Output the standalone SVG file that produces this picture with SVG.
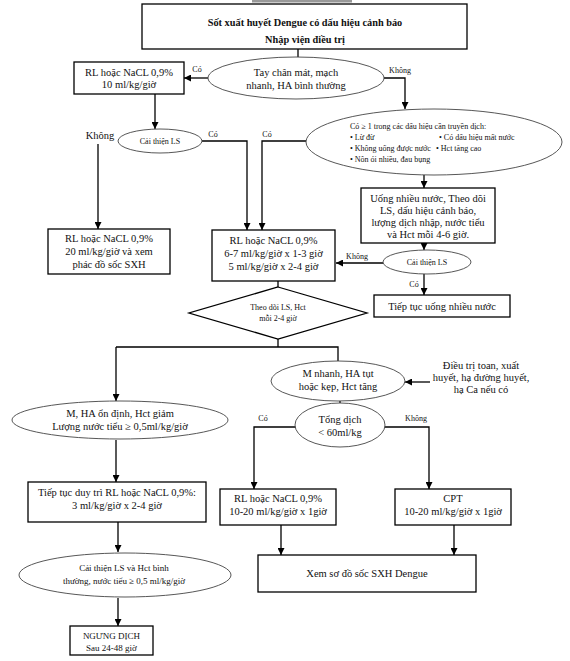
<svg xmlns="http://www.w3.org/2000/svg" width="570" height="661" viewBox="0 0 570 661">
<defs>
<marker id="arr" viewBox="0 0 10 10" refX="10" refY="5" markerWidth="7" markerHeight="7" markerUnits="userSpaceOnUse" orient="auto">
<path d="M0,0 L10,5 L0,10 z" fill="#000"/>
</marker>
<style>
.box{fill:#fff;stroke:#000;stroke-width:1.3}
.ell{fill:#fff;stroke:#444;stroke-width:0.9}
.t{font-family:"Liberation Serif","Times New Roman",serif;font-size:10.5px;fill:#111;text-anchor:middle}
.b{font-weight:bold;font-size:10.3px}
.s{font-size:8px}
.m{font-size:9px}
.l{text-anchor:start}
.c{fill:none;stroke:#000;stroke-width:1.3}
.ca{fill:none;stroke:#000;stroke-width:1.3;marker-end:url(#arr)}
</style>
</defs>
<rect width="570" height="661" fill="#fff"/>
<rect x="252" y="0" width="100" height="2.5" fill="#999"/>

<g id="connectors">
<line class="c" x1="298" y1="49" x2="298" y2="57"/>
<line class="ca" x1="208" y1="78" x2="184" y2="78"/>
<polyline class="ca" points="384,78 405,78 405,109"/>
<line class="ca" x1="155" y1="94" x2="155" y2="129"/>
<line class="ca" x1="98" y1="144" x2="98" y2="229"/>
<polyline class="ca" points="202,141 247,141 247,230"/>
<polyline class="ca" points="306,141 262,141 262,230"/>
<line class="ca" x1="424" y1="175" x2="424" y2="188"/>
<line class="ca" x1="424" y1="243" x2="424" y2="250"/>
<line class="ca" x1="383" y1="263" x2="336" y2="263"/>
<line class="ca" x1="424" y1="274" x2="424" y2="295"/>
<line class="c" x1="278" y1="281" x2="278" y2="287"/>
<polyline class="c" points="278,339 278,347"/>
<polyline class="c" points="116,347 338,347 338,361"/>
<line class="ca" x1="116" y1="347" x2="116" y2="401"/>
<line class="ca" x1="430" y1="382" x2="405" y2="382"/>
<line class="c" x1="340" y1="401" x2="340" y2="403"/>
<polyline class="ca" points="296,427 254,427 254,489"/>
<polyline class="ca" points="385,427 429,427 429,489"/>
<line class="ca" x1="281" y1="525" x2="281" y2="555"/>
<line class="ca" x1="454" y1="525" x2="454" y2="555"/>
<line class="ca" x1="116" y1="440" x2="116" y2="482"/>
<line class="ca" x1="118" y1="522" x2="118" y2="552"/>
<line class="ca" x1="118" y1="598" x2="118" y2="626"/>
<text class="t s" x="197" y="72">Có</text>
<text class="t s" x="400" y="73">Không</text>
<text class="t" x="100" y="139" style="font-size:10.5px">Không</text>
<text class="t s" x="213" y="137">Có</text>
<text class="t s" x="267" y="137">Có</text>
<text class="t s" x="357" y="259">Không</text>
<text class="t s" x="414" y="287">Có</text>
<text class="t s" x="263" y="421">Có</text>
<text class="t s" x="416" y="421">Không</text>
</g>

<g id="n-start">
<rect class="box" x="142" y="4" width="325" height="45"/>
<text class="t b" x="305" y="26">Sốt xuất huyết Dengue có dấu hiệu cảnh báo</text>
<text class="t b" x="305" y="43">Nhập viện điều trị</text>
</g>

<g id="n-e1">
<ellipse class="ell" cx="296" cy="78" rx="88" ry="21"/>
<text class="t" x="296" y="76">Tay chân mát, mạch</text>
<text class="t" x="296" y="89">nhanh, HA bình thường</text>
</g>

<g id="n-b1">
<rect class="box" x="74" y="62" width="110" height="32"/>
<text class="t" x="129" y="75.5">RL hoặc NaCL 0,9%</text>
<text class="t" x="129" y="88">10 ml/kg/giờ</text>
</g>

<g id="n-e2">
<ellipse class="ell" cx="434" cy="142" rx="128" ry="33"/>
<text class="t s l" x="350" y="129">Có ≥ 1 trong các dấu hiệu cần truyền dịch:</text>
<text class="t s l" x="350" y="140">• Lừ đừ</text>
<text class="t s l" x="439" y="140">• Có dấu hiệu mất nước</text>
<text class="t s l" x="350" y="151">• Không uống được nước</text>
<text class="t s l" x="436" y="151">• Hct tăng cao</text>
<text class="t s l" x="350" y="162">• Nôn ói nhiều, đau bụng</text>
</g>

<g id="n-e3">
<ellipse class="ell" cx="160" cy="141" rx="42" ry="12"/>
<text class="t s" x="160" y="144">Cải thiện LS</text>
</g>

<g id="n-b2">
<rect class="box" x="48" y="229" width="122" height="45"/>
<text class="t" x="109" y="242">RL hoặc NaCL 0,9%</text>
<text class="t" x="109" y="255">20 ml/kg/giờ và xem</text>
<text class="t" x="109" y="268">phác đồ sốc SXH</text>
</g>

<g id="n-b3">
<rect class="box" x="212" y="230" width="123" height="51"/>
<text class="t" x="273.5" y="244">RL hoặc NaCL 0,9%</text>
<text class="t" x="273.5" y="257">6-7 ml/kg/giờ x 1-3 giờ</text>
<text class="t" x="273.5" y="270">5 ml/kg/giờ x 2-4 giờ</text>
</g>

<g id="n-b4">
<rect class="box" x="361" y="188" width="134" height="55"/>
<text class="t" x="428" y="202">Uống nhiều nước, Theo dõi</text>
<text class="t" x="428" y="214">LS, dấu hiệu cảnh báo,</text>
<text class="t" x="428" y="226">lượng dịch nhập, nước tiểu</text>
<text class="t" x="428" y="238">và Hct mỗi 4-6 giờ.</text>
</g>

<g id="n-e4">
<ellipse class="ell" cx="427" cy="262" rx="44" ry="12"/>
<text class="t s" x="427" y="265">Cải thiện LS</text>
</g>

<g id="n-b5">
<rect class="box" x="374" y="295" width="136" height="22"/>
<text class="t" x="442" y="309.5">Tiếp tục uống nhiều nước</text>
</g>

<g id="n-d1">
<polygon class="box" points="278,287 367,313 278,339 189,313"/>
<text class="t s" x="278" y="310">Theo dõi LS, Hct</text>
<text class="t s" x="278" y="321">mỗi 2-4 giờ</text>
</g>

<g id="n-e5">
<ellipse class="ell" cx="120" cy="420" rx="108" ry="19"/>
<text class="t" x="120" y="417">M, HA ổn định, Hct giảm</text>
<text class="t" x="120" y="430">Lượng nước tiểu ≥ 0,5ml/kg/giờ</text>
</g>

<g id="n-e6">
<ellipse class="ell" cx="338" cy="381" rx="67" ry="20"/>
<text class="t" x="338" y="377">M nhanh, HA tụt</text>
<text class="t" x="338" y="390">hoặc kẹp, Hct tăng</text>
</g>

<g id="n-note">
<text class="t" x="481" y="369">Điều trị toan, xuất</text>
<text class="t" x="481" y="381">huyết, hạ đường huyết,</text>
<text class="t" x="481" y="393">hạ Ca nếu có</text>
</g>

<g id="n-e7">
<ellipse class="ell" cx="340" cy="425" rx="45" ry="22"/>
<text class="t" x="340" y="423">Tổng dịch</text>
<text class="t" x="340" y="436">&lt; 60ml/kg</text>
</g>

<g id="n-b6">
<rect class="box" x="220" y="489" width="116" height="36"/>
<text class="t" x="278" y="502">RL hoặc NaCL 0,9%</text>
<text class="t" x="278" y="515">10-20 ml/kg/giờ x 1giờ</text>
</g>

<g id="n-b7">
<rect class="box" x="395" y="489" width="116" height="36"/>
<text class="t" x="453" y="502">CPT</text>
<text class="t" x="453" y="515">10-20 ml/kg/giờ x 1giờ</text>
</g>

<g id="n-b8">
<rect class="box" x="258" y="555" width="218" height="37"/>
<text class="t" x="367" y="576.5">Xem sơ đồ sốc SXH Dengue</text>
</g>

<g id="n-b9">
<rect class="box" x="28" y="482" width="178" height="40"/>
<text class="t" x="117" y="496">Tiếp tục duy trì RL hoặc NaCL 0,9%:</text>
<text class="t" x="117" y="509">3 ml/kg/giờ x 2-4 giờ</text>
</g>

<g id="n-e8">
<ellipse class="ell" cx="125" cy="575" rx="106" ry="22"/>
<text class="t m" x="124" y="571">Cải thiện LS và Hct bình</text>
<text class="t m" x="124" y="584">thường, nước tiểu ≥ 0,5 ml/kg/giờ</text>
</g>

<g id="n-b10">
<rect class="box" x="70" y="626" width="83" height="29"/>
<text class="t m" x="111.5" y="639">NGƯNG DỊCH</text>
<text class="t m" x="111.5" y="651">Sau 24-48 giờ</text>
</g>
</svg>
